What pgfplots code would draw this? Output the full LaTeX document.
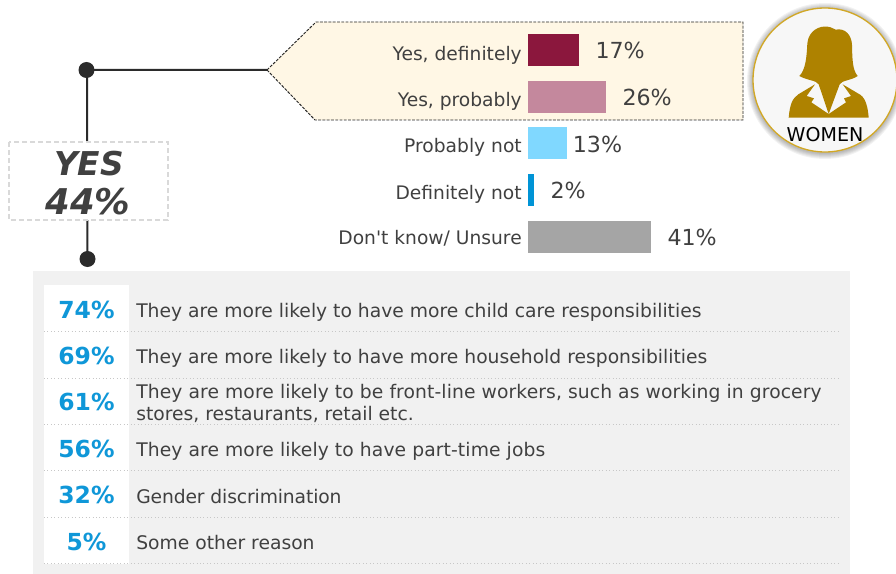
\documentclass[border=0pt]{standalone}
\usepackage{pgfplots}
\pgfplotsset{compat=1.18}
\usepackage{fontspec}
\setmainfont{DejaVu Sans}[Ligatures=TeXOff]
\definecolor{txt}{HTML}{404040}
\definecolor{pctblue}{HTML}{0F97D8}
\definecolor{panel}{HTML}{F1F1F1}
\definecolor{calloutfill}{HTML}{FFF7E5}
\definecolor{gold}{HTML}{AE8200}
\definecolor{ring}{HTML}{D2A826}
\definecolor{wine}{HTML}{8B173D}
\definecolor{rose}{HTML}{C4889D}
\definecolor{sky}{HTML}{80D8FF}
\definecolor{deepblue}{HTML}{0094D6}
\definecolor{midgrey}{HTML}{A5A5A5}
\definecolor{linkdark}{HTML}{2B2B2B}
\newcommand{\rowtext}[2]{\node[anchor=base west,inner sep=0pt,text=txt,font=\fontsize{14.05pt}{15pt}\selectfont] at (136,#1) {#2};}
\newcommand{\rowpct}[2]{\node[anchor=base,inner sep=0pt,text=pctblue,font=\fontsize{17.6pt}{20pt}\selectfont\bfseries] at (86.5,#1) {#2\%};}
\begin{document}
\begin{tikzpicture}
\begin{scope}[x=0.75pt,y=-0.75pt]
  \useasboundingbox (0,0) rectangle (896,574);
  % panel holding the list of reasons
  \fill[panel] (33,271) rectangle (850,574);
  \fill[white] (44,285) rectangle (129,564);
  \foreach \yy in {331.7,378,424.3,470.7,517.3,563.3}
    \draw[black!22,line width=0.6pt,dotted] (44,\yy) -- (838,\yy);
  \rowpct{318.5}{74}
  \rowpct{364.5}{69}
  \rowpct{410.5}{61}
  \rowpct{457.5}{56}
  \rowpct{503.5}{32}
  \rowpct{550}{5}
  \rowtext{317}{They are more likely to have more child care responsibilities}
  \rowtext{363}{They are more likely to have more household responsibilities}
  \rowtext{398}{\addfontfeature{LetterSpace=0.55}They are more likely to be front-line workers, such as working in grocery}
  \rowtext{420}{stores, restaurants, retail etc.}
  \rowtext{456}{\addfontfeature{LetterSpace=0.55}They are more likely to have part-time jobs}
  \rowtext{503}{\addfontfeature{LetterSpace=-0.7}Gender discrimination}
  \rowtext{549}{Some other reason}
  % connector and the YES total
  \draw[linkdark,line width=1.5pt] (267,70) -- (87,70) -- (87.5,259);
  \fill[linkdark] (86.5,70) circle[radius=8];
  \fill[linkdark] (87.5,259) circle[radius=8];
  \draw[black!15,line width=1pt,dash pattern=on 4pt off 2pt,fill=white] (9,142) rectangle (168,220);
  \node[text=txt,font=\fontsize{24.6pt}{28pt}\selectfont\bfseries\itshape,inner sep=0pt] at (89,163.5) {YES};
  \node[text=txt,font=\fontsize{26.6pt}{28pt}\selectfont\bfseries\itshape,inner sep=0pt] at (88,201.5) {44\%};
  % callout behind the two yes answers
  \draw[black!85,line width=0.7pt,dash pattern=on 2.2pt off 1pt,fill=calloutfill]
    (267,70) -- (316,22) -- (743,22) -- (743,120) -- (315,120) -- cycle;
  % round badge with its soft shadow
  \foreach \rr in {78,77,76,75,74,73}
    \fill[black,opacity=0.05] (825,81) circle[radius=\rr];
  \draw[ring,line width=1pt,fill=black!3] (825,80) circle[radius=72];
  \begin{scope}[shift={(770,15)},scale=1/3]
    \fill[gold] (56,308) .. controls (60,265) and (68,250) .. (85,238) -- (135,208)
      -- (110,243) -- (132,250) -- (124,262) -- (176,297) -- (228,262) -- (222,250)
      -- (243,243) -- (218,208) -- (272,240) .. controls (288,252) and (294,280) .. (296,308) -- cycle;
    \fill[gold] (176,297) -- (146,208) .. controls (140,196) and (110,196) .. (88,183)
      .. controls (106,165) and (110,130) .. (112,85)
      .. controls (116,45) and (150,32) .. (172,35)
      .. controls (185,36) and (190,42) .. (197,44)
      .. controls (225,38) and (245,60) .. (246,90)
      .. controls (247,130) and (247,165) .. (263,183)
      .. controls (245,196) and (215,196) .. (209,208) -- cycle;
  \end{scope}
  \node[text=black,font=\fontsize{14.3pt}{16pt}\selectfont,inner sep=0pt] at (825,135) {WOMEN};
\end{scope}
\begin{axis}[
  at={(396pt,-19.95pt)},anchor=north west,
  scale only axis,width=225pt,height=175.3pt,
  xmin=0,xmax=100,ymin=-0.5,ymax=4.5,y dir=reverse,
  clip=false,
  hide x axis,
  axis y line=left,y axis line style={draw=none},
  ytick={0,1,2,3,4},
  yticklabels={{\raisebox{-2.55pt}{Yes, definitely}},{\raisebox{-1.8pt}{Yes, probably}},{\raisebox{-1.27pt}{Probably not}},{\raisebox{-1.27pt}{Definitely not}},{Don't know/ Unsure}},
  major tick length=0pt,
  yticklabel style={font=\fontsize{14pt}{16pt}\selectfont,text=txt,inner sep=0pt,text height=8pt,text depth=8pt,xshift=-4.5pt,yshift=-5.5pt},
  /pgf/number format/assume math mode=true,
  xbar,bar width=24pt,bar shift=0pt,
  point meta=x,
  nodes near coords={\pgfmathprintnumber{\pgfplotspointmeta}\%},
  every node near coord/.append style={font=\fontsize{16.6pt}{18pt}\selectfont,text=txt,inner sep=0pt,anchor=west,xshift=12.2pt,yshift=-0.4pt},
]
\addplot[draw=none,fill=wine] coordinates {(17,0)};
\addplot[draw=none,fill=rose] coordinates {(26,1)};
\addplot[draw=none,fill=sky,every node near coord/.append style={xshift=-8pt}] coordinates {(13,2)};
\addplot[draw=none,fill=deepblue] coordinates {(2,3)};
\addplot[draw=none,fill=midgrey] coordinates {(41,4)};
\end{axis}
\end{tikzpicture}
\end{document}
